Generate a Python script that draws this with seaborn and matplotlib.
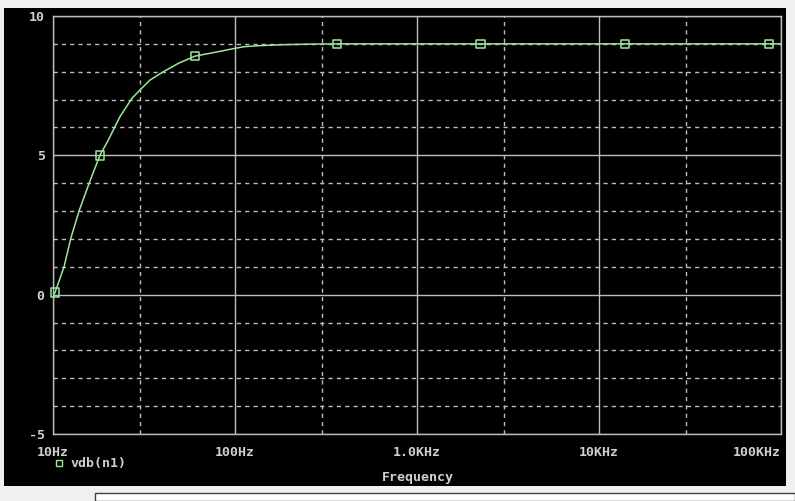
import numpy as np
import pandas as pd
import matplotlib
matplotlib.use("Agg")
import matplotlib.pyplot as plt
import seaborn as sns
from matplotlib.patches import Rectangle
from matplotlib.ticker import FixedLocator, NullFormatter

# ---- data ----
freq_hz = [10, 10.25, 11.5, 12.5, 13.9, 15.8, 18.1, 20.1, 23.3, 27.1, 30, 34.1, 40.4, 48.8,
           60.3, 81, 100, 113, 140, 184, 250, 363, 1000, 2239, 13900, 85900, 100000]
vdb_n1 = [-0.05, 0.07, 1.0, 2.0, 3.0, 4.0, 5.0, 5.54, 6.38, 7.04, 7.34, 7.70, 8.0, 8.30,
          8.56, 8.72, 8.84, 8.90, 8.94, 8.97, 8.99, 9.0, 9.0, 9.0, 9.0, 9.0, 9.0]
marker_freq = [10.25, 18.1, 60.3, 363, 2239, 13900, 85900]
marker_vdb = [0.07, 5.0, 8.56, 9.0, 9.0, 9.0, 9.0]
x_ticks = [10, 100, 1000, 10000, 100000]
x_labels = ["10Hz", "100Hz", "1.0KHz", "10KHz", "100KHz"]
x_minor = [30, 300, 3000, 30000]
y_ticks = [-5, 0, 5, 10]
y_labels = ["-5", "0", "5", "10"]
y_minor = [-4, -3, -2, -1, 1, 2, 3, 4, 6, 7, 8, 9]
trace_name = "vdb(n1)"
x_title = "Frequency"

curve = pd.DataFrame({"f": freq_hz, "v": vdb_n1})
marks = pd.DataFrame({"f": marker_freq, "v": marker_vdb})

sns.set_theme(style="dark")
plt.rcParams["font.family"] = ["DejaVu Sans Mono", "DejaVu Sans"]
plt.rcParams["font.weight"] = "bold"

W, H = 795, 501
fig = plt.figure(figsize=(W / 100, H / 100), dpi=100)
fig.patch.set_facecolor("#f0f0f0")

def fx(px):
    return px / W

def fy(py):
    return 1 - py / H

# black window region
fig.patches.append(Rectangle((fx(4), fy(486)), fx(786) - fx(4), fy(8) - fy(486),
                             transform=fig.transFigure, facecolor="black", edgecolor="none", zorder=-5))
# bottom status text box
fig.patches.append(Rectangle((fx(95), fy(501)), fx(795) - fx(95), fy(493) - fy(501),
                             transform=fig.transFigure, facecolor="white", edgecolor="#404040",
                             linewidth=1, zorder=-5))

ax = fig.add_axes([fx(53), fy(434), fx(781) - fx(53), fy(16) - fy(434)])
ax.set_zorder(2)
ax.set_facecolor("black")

green = "#9be89b"
text_col = "#cfcfcf"
grid_col = "#bdbdbd"

sns.lineplot(data=curve, x="f", y="v", ax=ax, color=green, linewidth=1.1, zorder=3)
sns.scatterplot(data=marks, x="f", y="v", ax=ax, marker="s", s=38, facecolor="none",
                edgecolor=green, linewidth=1.1, zorder=4, clip_on=False)

ax.set_xscale("log")
ax.set_xlim(10, 100000)
ax.set_ylim(-5, 10)

ax.xaxis.set_major_locator(FixedLocator(x_ticks))
ax.set_xticklabels(x_labels)
ax.xaxis.set_minor_locator(FixedLocator(x_minor))
ax.xaxis.set_minor_formatter(NullFormatter())
ax.yaxis.set_major_locator(FixedLocator(y_ticks))
ax.set_yticklabels(y_labels)
ax.yaxis.set_minor_locator(FixedLocator(y_minor))

ax.grid(True, which="major", color=grid_col, linestyle="-", linewidth=1.0, zorder=1)
ax.grid(True, which="minor", color=grid_col, linestyle=(0, (3, 3)), linewidth=1.0, zorder=1)
ax.set_axisbelow(True)

for sp in ax.spines.values():
    sp.set_visible(True)
    sp.set_color(grid_col)
    sp.set_linewidth(1.0)

ax.tick_params(axis="both", which="major", length=4, width=1, color=grid_col,
               labelcolor=text_col, labelsize=9.5, direction="out")
ax.tick_params(axis="x", which="major", pad=5)
ax.tick_params(axis="y", which="major", pad=2)
ax.tick_params(axis="both", which="minor", length=0)
for lbl in ax.get_xticklabels() + ax.get_yticklabels():
    lbl.set_fontweight("bold")
ax.get_xticklabels()[-1].set_horizontalalignment("right")

ax.set_xlabel("")
ax.set_ylabel("")

fig.text(fx(418), fy(478), x_title, color=text_col, fontsize=9.5, fontweight="bold",
         ha="center", va="center", zorder=3)

# legend entry
leg = ax.legend(handles=[plt.Line2D([], [], marker="s", markersize=5, markerfacecolor="none",
                                    markeredgecolor=green, linestyle="none")],
                labels=[trace_name], loc="center left", frameon=False,
                bbox_to_anchor=(fx(47), fy(464)), bbox_transform=fig.transFigure,
                handlelength=0.8, handletextpad=0.5, borderpad=0,
                prop={"size": 9.5, "weight": "bold", "family": "DejaVu Sans Mono"})
for t in leg.get_texts():
    t.set_color(text_col)

fig.savefig("out.png", dpi=100, facecolor=fig.get_facecolor())
